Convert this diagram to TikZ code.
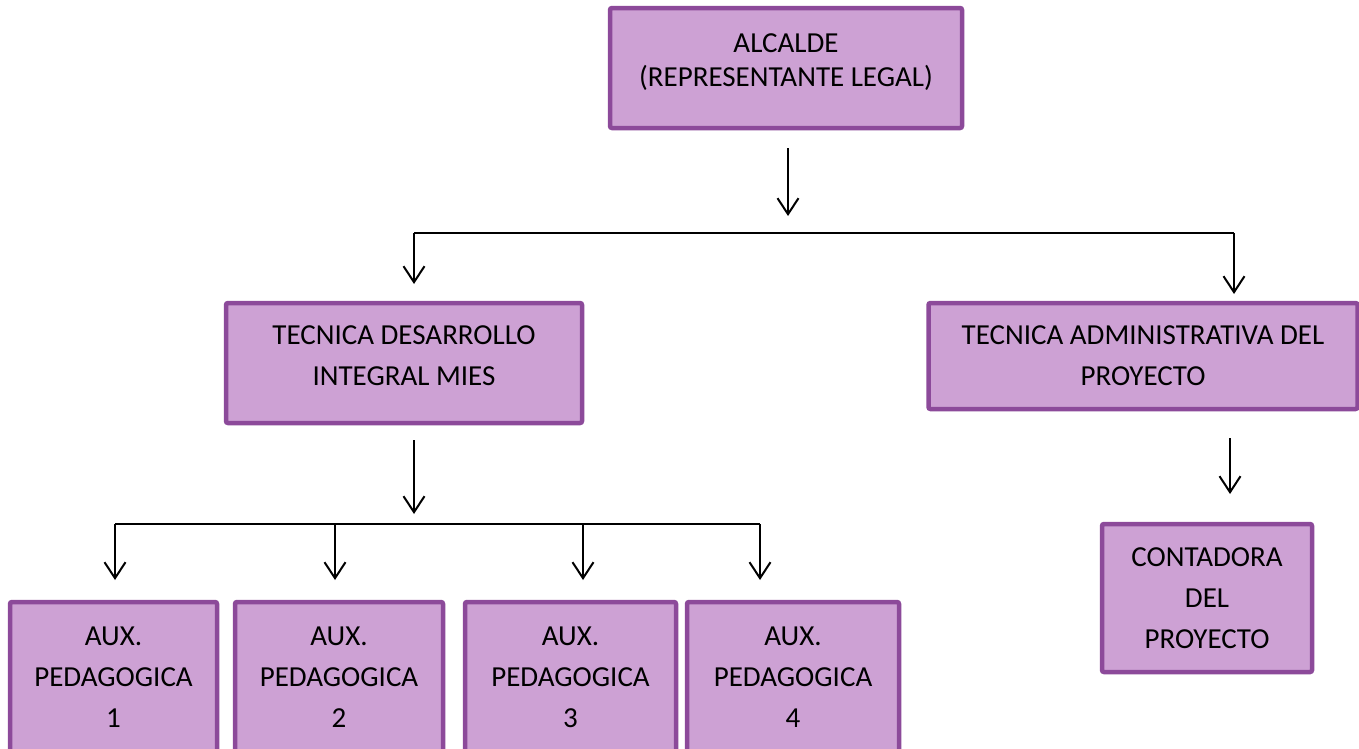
\documentclass[tikz,border=0pt]{standalone}
\usepackage{fontspec}
\setmainfont{Carlito}
\usetikzlibrary{arrows.meta}
\definecolor{boxfill}{HTML}{CDA1D4}
\definecolor{boxline}{HTML}{8C4A9A}
\tikzset{
  orgbox/.style={draw=boxline, fill=boxfill, line width=4.5pt, rounded corners=2pt,
    align=center, inner sep=0pt, font=\fontsize{29}{41}\selectfont, text=black},
  link/.style={line width=2pt, draw=black},
  arr/.style={link, -{Straight Barb[length=16pt,width=21pt,line width=2pt]}}
}
\begin{document}
\begin{tikzpicture}[x=1pt,y=-1pt]
\useasboundingbox (0,0) rectangle (1359,748);
\clip (0,0) rectangle (1359,748);
% boxes
\node[orgbox, font=\fontsize{29}{34}\selectfont, text depth=15pt, minimum width=352pt, minimum height=120pt] (alc) at (786,68) {ALCALDE\\(REPRESENTANTE LEGAL)};
\node[orgbox, text depth=14pt, minimum width=356pt, minimum height=120pt] (tdi) at (404,363) {TECNICA DESARROLLO\\INTEGRAL MIES};
\node[orgbox, minimum width=429pt, minimum height=106pt] (tap) at (1143,356) {TECNICA ADMINISTRATIVA DEL\\PROYECTO};
\node[orgbox, minimum width=210pt, minimum height=148pt] (cont) at (1207,598) {CONTADORA\\DEL\\PROYECTO};
\node[orgbox, minimum width=207pt, minimum height=150pt] (ax1) at (113.5,677) {AUX.\\PEDAGOGICA\\1};
\node[orgbox, minimum width=208pt, minimum height=150pt] (ax2) at (339,677) {AUX.\\PEDAGOGICA\\2};
\node[orgbox, minimum width=211pt, minimum height=150pt] (ax3) at (570.5,677) {AUX.\\PEDAGOGICA\\3};
\node[orgbox, minimum width=212pt, minimum height=150pt] (ax4) at (793,677) {AUX.\\PEDAGOGICA\\4};
% connector points
\coordinate (a1s) at (788,148);
\coordinate (a1e) at (788,216);
\coordinate (b1L) at (414,233);
\coordinate (b1R) at (1234,233);
\coordinate (t1) at (414,284);
\coordinate (t2) at (1234,294);
\coordinate (a2s) at (414,440);
\coordinate (a2e) at (414,514);
\coordinate (b2L) at (115,524);
\coordinate (b2a) at (335,524);
\coordinate (b2b) at (583,524);
\coordinate (b2R) at (760,524);
\coordinate (x1) at (115,580);
\coordinate (x2) at (335,580);
\coordinate (x3) at (583,580);
\coordinate (x4) at (760,580);
\coordinate (a3s) at (1230,438);
\coordinate (a3e) at (1230,494);
% connectors
\draw[arr] (a1s) -- (a1e);
\draw[link] (b1L) -- (b1R);
\draw[arr] (b1L) -- (t1);
\draw[arr] (b1R) -- (t2);
\draw[arr] (a2s) -- (a2e);
\draw[link] (b2L) -- (b2R);
\draw[arr] (b2L) -- (x1);
\draw[arr] (b2a) -- (x2);
\draw[arr] (b2b) -- (x3);
\draw[arr] (b2R) -- (x4);
\draw[arr] (a3s) -- (a3e);
\end{tikzpicture}
\end{document}
